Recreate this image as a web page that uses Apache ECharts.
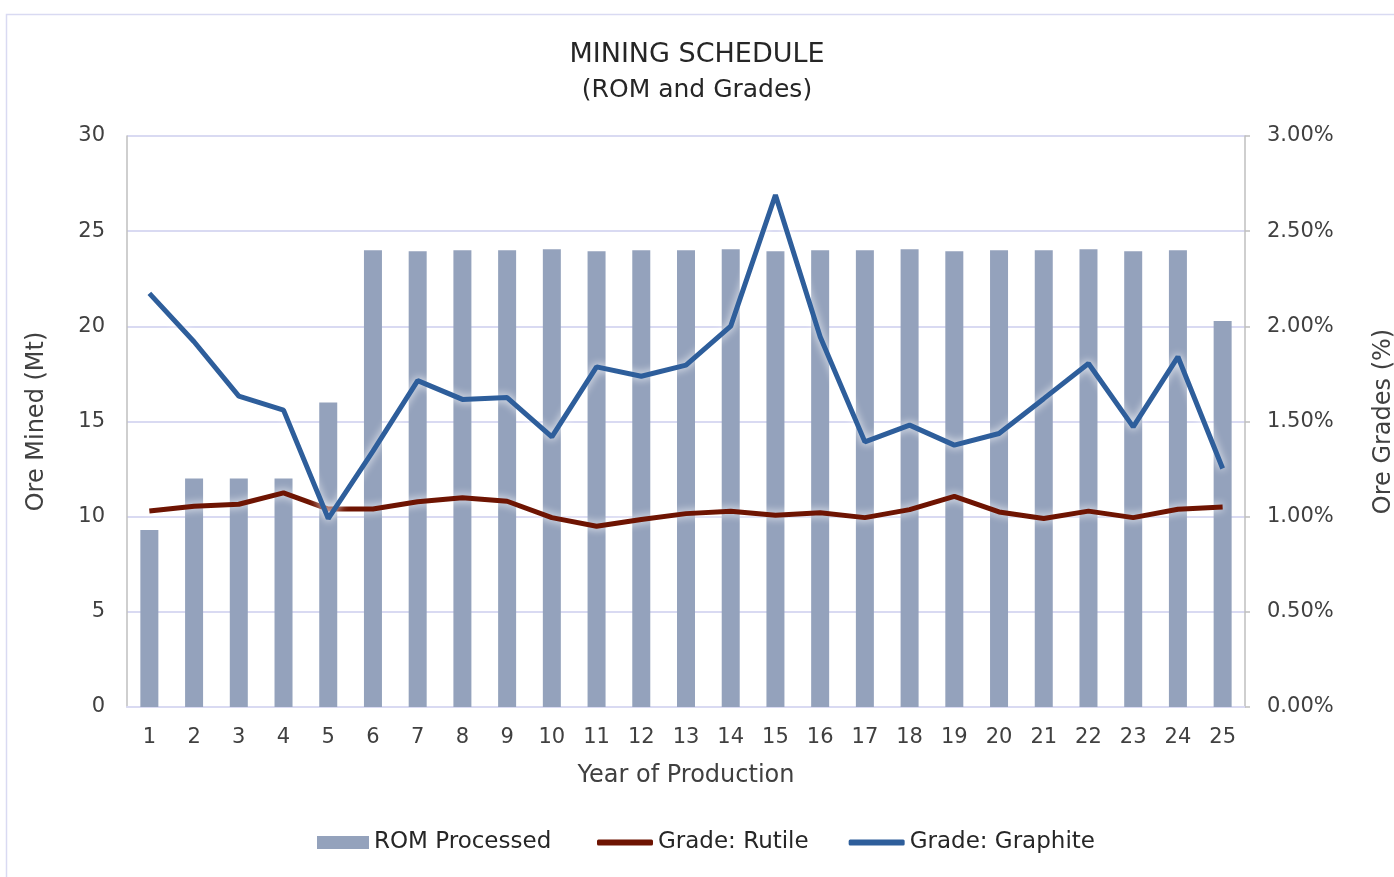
<!DOCTYPE html>
<html>
<head>
<meta charset="utf-8">
<script src="https://cdn.jsdelivr.net/npm/echarts@6/dist/echarts.min.js"></script>
<style>
  html, body { margin: 0; padding: 0; background: #fff; overflow: hidden; }
  #chart { width: 1394px; height: 877px; }
</style>
</head>
<body>
<div id="chart"></div>
<script>
// years of production
const years = ['1','2','3','4','5','6','7','8','9','10','11','12','13','14','15','16','17','18','19','20','21','22','23','24','25'];

// ROM processed (Mt)
const romProcessed = [9.3, 12.0, 12.0, 12.0, 16.0, 24.0, 23.95, 24.0, 24.0, 24.05, 23.95, 24.0, 24.0, 24.05, 23.95, 24.0, 24.0, 24.05, 23.95, 24.0, 24.0, 24.05, 23.95, 24.0, 20.28];

// grades (%)
const gradeRutile = [1.03, 1.055, 1.065, 1.125, 1.04, 1.04, 1.078, 1.099, 1.081, 0.995, 0.95, 0.985, 1.016, 1.029, 1.008, 1.02, 0.995, 1.037, 1.107, 1.025, 0.99, 1.029, 0.995, 1.039, 1.051];
const gradeGraphite = [2.173, 1.919, 1.633, 1.56, 0.99, 1.344, 1.715, 1.616, 1.626, 1.419, 1.787, 1.738, 1.796, 2.001, 2.69, 1.945, 1.393, 1.481, 1.376, 1.437, 1.62, 1.805, 1.472, 1.84, 1.253];

const FONT = 'DejaVu Sans';
const TXT = '#404040';
const LEGEND_TXT = { fontSize: 23, color: '#262626', fontFamily: FONT };

const chart = echarts.init(document.getElementById('chart'));

const option = {
  backgroundColor: '#fff',
  textStyle: { fontFamily: FONT },
  graphic: [{
    type: 'rect',
    shape: { x: 6.5, y: 14.5, width: 1500, height: 1000 },
    style: { fill: 'none', stroke: '#d9daf2', lineWidth: 1.5 },
    silent: true
  }],
  title: {
    text: 'MINING SCHEDULE',
    subtext: '(ROM and Grades)',
    left: 'center',
    top: 36,
    itemGap: 10,
    textStyle: { fontSize: 27, fontWeight: 'normal', color: '#262626', fontFamily: FONT },
    subtextStyle: { fontSize: 25, color: '#262626', fontFamily: FONT }
  },
  legend: [{
    top: 831,
    left: 317,
    padding: 0,
    itemWidth: 52,
    itemHeight: 13,
    textStyle: LEGEND_TXT,
    data: [{ name: 'ROM Processed', icon: 'rect' }]
  }, {
    top: 831,
    left: 597,
    padding: 0,
    itemWidth: 56,
    itemHeight: 6,
    itemGap: 40,
    textStyle: LEGEND_TXT,
    data: [
      { name: 'Grade: Rutile', icon: 'roundRect' },
      { name: 'Grade: Graphite', icon: 'roundRect' }
    ]
  }],
  grid: { left: 127, right: 149, top: 136, bottom: 170, outerBoundsMode: 'none' },
  xAxis: {
    type: 'category',
    data: years,
    name: 'Year of Production',
    nameLocation: 'middle',
    nameGap: 57,
    nameTextStyle: { fontSize: 24, color: TXT },
    axisLine: { lineStyle: { color: '#d9daf2', width: 2 } },
    axisTick: { show: false },
    axisLabel: { fontSize: 21, color: TXT, margin: 20 }
  },
  yAxis: [{
    type: 'value',
    min: 0,
    max: 30,
    interval: 5,
    name: 'Ore Mined (Mt)',
    nameLocation: 'middle',
    nameGap: 78,
    nameTextStyle: { fontSize: 24, color: TXT },
    axisLine: { show: true, lineStyle: { color: '#bfbfbf', width: 1.5 } },
    axisTick: { show: false },
    axisLabel: { fontSize: 21, color: TXT, margin: 22 },
    splitLine: { lineStyle: { color: '#d9daf2', width: 2 } }
  }, {
    type: 'value',
    min: 0,
    max: 3,
    interval: 0.5,
    position: 'right',
    name: 'Ore Grades (%)',
    nameLocation: 'middle',
    nameGap: 127,
    nameTextStyle: { fontSize: 24, color: TXT },
    axisLine: { show: true, lineStyle: { color: '#bfbfbf', width: 1.5 } },
    axisTick: { show: true, length: 5, lineStyle: { color: '#bfbfbf', width: 1.5 } },
    axisLabel: { fontSize: 21, color: TXT, margin: 22, formatter: v => v.toFixed(2) + '%' },
    splitLine: { show: false }
  }],
  series: [{
    name: 'ROM Processed',
    type: 'bar',
    data: romProcessed,
    barWidth: 18,
    itemStyle: { color: '#94a2bc' },
    silent: true
  }, {
    name: 'Grade: Rutile',
    type: 'line',
    yAxisIndex: 1,
    data: gradeRutile,
    symbol: 'none',
    lineStyle: { color: '#6e1402', width: 5, shadowColor: 'rgba(255,255,255,0.95)', shadowBlur: 8 },
    itemStyle: { color: '#6e1402' },
    silent: true
  }, {
    name: 'Grade: Graphite',
    type: 'line',
    yAxisIndex: 1,
    data: gradeGraphite,
    symbol: 'none',
    lineStyle: { color: '#2e5e9b', width: 5, shadowColor: 'rgba(255,255,255,0.95)', shadowBlur: 8 },
    itemStyle: { color: '#2e5e9b' },
    silent: true
  }],
  animation: false
};

chart.setOption(option);
window.addEventListener('resize', () => chart.resize());
</script>
</body>
</html>
